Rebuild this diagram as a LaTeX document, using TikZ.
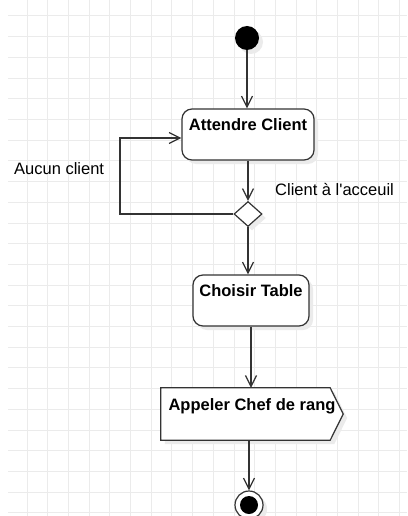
\documentclass[tikz,border=0pt]{standalone}
\usepackage{fontspec}
\setmainfont{Liberation Sans}
\usetikzlibrary{arrows.meta,shapes.geometric,shadows,backgrounds}
\tikzset{
  gridline/.style={draw=black!8, line width=1pt},
  conn/.style={draw=black!80, line width=1.2pt},
  arr/.style={conn, -{Straight Barb[length=11pt,width=11pt]}},
  shad/.style={drop shadow={shadow xshift=4pt, shadow yshift=-4pt, fill=black!8, opacity=1}},
  actbox/.style={draw=black!80, line width=1.2pt, rounded corners=10pt, fill=white,
    font=\fontsize{16.5}{18}\selectfont\bfseries, inner sep=0pt, shad},
  lbl/.style={font=\fontsize{16.5}{18}\selectfont, inner sep=0pt, anchor=base west}
}
\begin{document}
\begin{tikzpicture}[x=1pt,y=-1pt]
\useasboundingbox (0,0) rectangle (407,516);
\begin{scope}[on background layer]
  \fill[white] (0,0) rectangle (407,516);
  \foreach \i in {0,...,18} \draw[gridline] (27+20.7*\i,0) -- (27+20.7*\i,516);
  \foreach \j in {0,...,24} \draw[gridline] (8,16+20.7*\j) -- (407,16+20.7*\j);
\end{scope}

\node[circle, fill=black, minimum size=24pt, inner sep=0pt, shad] (start) at (247,38) {};
\node[actbox, minimum width=132pt, minimum height=51pt, text height=22pt, text depth=29pt] (att) at (248,134.5) {Attendre Client};
\node[diamond, draw=black!80, line width=1.2pt, fill=white, minimum width=28pt, minimum height=25pt, inner sep=0pt, shad] (dec) at (248,214) {};
\node[actbox, minimum width=116pt, minimum height=51pt, text height=21pt, text depth=30pt] (cho) at (251,300.5) {Choisir Table};
\node[font=\fontsize{16.5}{18}\selectfont\bfseries, inner sep=0pt, minimum width=182pt, minimum height=52pt, text height=22pt, text depth=30pt] (app) at (252,414) {Appeler Chef de rang};
\begin{scope}[on background layer]
  \fill[black!8] ([shift={(4,4)}]app.north west) -- ([shift={(-9,4)}]app.north east) -- ([shift={(4,4)}]app.east) -- ([shift={(-9,4)}]app.south east) -- ([shift={(4,4)}]app.south west) -- cycle;
  \draw[conn, fill=white] (app.north west) -- ([xshift=-13pt]app.north east) -- (app.east) -- ([xshift=-13pt]app.south east) -- (app.south west) -- cycle;
\end{scope}
\node[circle, draw=black!80, line width=1.2pt, fill=white, minimum size=28pt, inner sep=0pt, shad] (end) at (249,505) {};
\node[circle, fill=black, minimum size=18pt, inner sep=0pt] (endin) at (end.center) {};

\coordinate (lp) at (120,138);
\node[lbl] (lblno) at (14,174) {Aucun client};
\node[lbl] (lblyes) at (275,195) {Client à l\textquotesingle acceuil};

\draw[arr] (start.south) -- (start.south |- att.north);
\draw[arr] (att.south) -- (dec.north);
\draw[arr] (dec.west) -| (lp) -- (lp -| att.west);
\draw[arr] (dec.south) -- (dec.south |- cho.north);
\draw[arr] (cho.south) -- (cho.south |- app.north);
\draw[arr] (app.south -| end.north) -- (end.north);
\end{tikzpicture}
\end{document}
